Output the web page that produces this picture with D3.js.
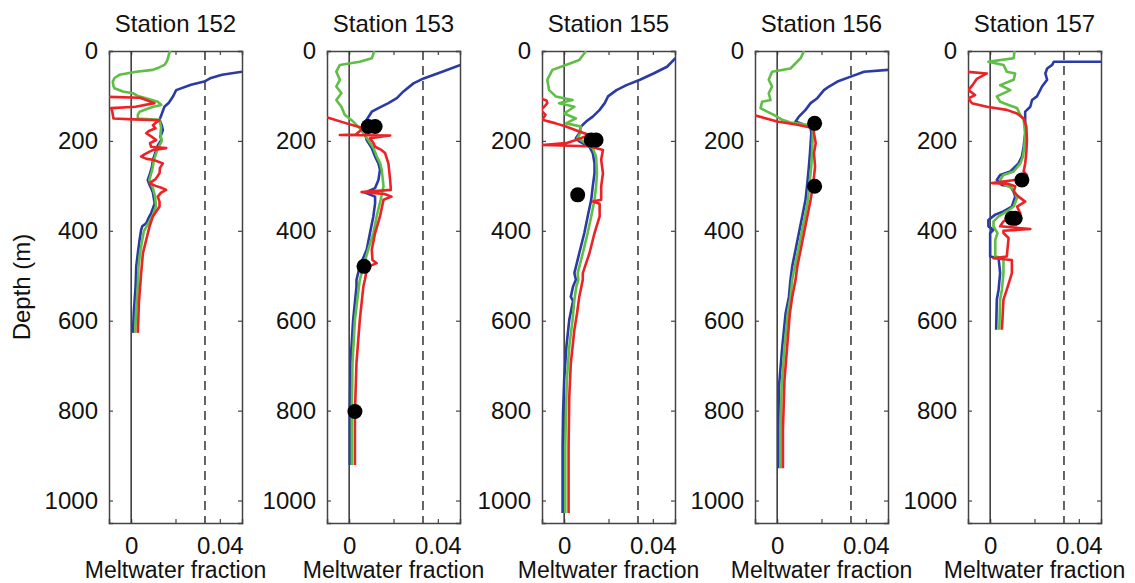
<!DOCTYPE html>
<html>
<head>
<meta charset="utf-8">
<script src="https://cdn.jsdelivr.net/npm/d3@7"></script>
<style>
  body { margin: 0; background: #fff; }
  svg { display: block; font-family: "Liberation Sans", Arial, sans-serif; }
</style>
</head>
<body>
<svg id="chart"></svg>
<script>
// depth (m), meltwater fraction pairs
const stations = ["152", "153", "155", "156", "157"];
const depthTicks = [0, 200, 400, 600, 800, 1000];
const fracTicks = [0, 0.02, 0.04];
const fracLabels = ["0", "", "0.04"];
const dashedFrac = 0.0333;

const s152Blue = [[40,0.056],[46,0.050],[53,0.041],[60,0.036],[68,0.033],[75,0.027],[87,0.0203],[100,0.019],[115,0.017],[124,0.015],[140,0.0138],[153,0.0128],[165,0.0138],[176,0.0143],[190,0.0132],[198,0.0136],[210,0.012],[220,0.0113],[232,0.0105],[242,0.0098],[255,0.0095],[264,0.009],[277,0.0082],[287,0.0075],[297,0.0082],[305,0.009],[315,0.0098],[324,0.0101],[339,0.0106],[350,0.0098],[361,0.009],[372,0.0078],[383,0.0068],[390,0.005],[398,0.0045],[420,0.0038],[450,0.003],[479,0.0023],[524,0.002],[580,0.0012],[627,0.0008]];
const s152Green = [[0,0.0177],[8,0.017],[16,0.0166],[24,0.016],[31,0.015],[38,0.012],[42,0.0098],[46,0.0023],[53,-0.0053],[60,-0.0075],[68,-0.0083],[78,-0.008],[83,-0.0075],[90,-0.0038],[94,0.0008],[100,0.003],[105,0.0068],[113,0.012],[120,0.0136],[124,0.010],[127,0.0083],[135,0.0038],[142,0.003],[150,0.003],[153,0.0128],[170,0.0135],[185,0.0132],[200,0.0138],[220,0.0118],[242,0.0103],[264,0.0095],[287,0.0082],[305,0.0098],[324,0.0108],[345,0.0112],[365,0.0098],[383,0.0078],[400,0.0058],[420,0.005],[450,0.004],[480,0.0033],[524,0.003],[580,0.0022],[627,0.0018]];
const s152Red = [[102,-0.011],[104,0.004],[116,0.0105],[124,0.002],[127,-0.009],[135,-0.0085],[150,-0.008],[152,0.001],[154,0.0128],[160,0.011],[165,0.0098],[172,0.011],[178,0.008],[183,0.0068],[190,0.009],[198,0.0113],[205,0.0085],[213,0.009],[216,0.0158],[220,0.010],[224,0.0083],[230,0.006],[235,0.0045],[240,0.007],[242,0.0098],[250,0.0143],[260,0.013],[272,0.0128],[285,0.011],[294,0.0083],[300,0.011],[305,0.014],[309,0.0158],[315,0.0135],[324,0.012],[335,0.0128],[346,0.0128],[368,0.0098],[390,0.0083],[420,0.0068],[450,0.0053],[494,0.0045],[560,0.0035],[627,0.003]];
const s152Dots = [];

const s153Blue = [[28,0.056],[31,0.0503],[46,0.042],[61,0.0336],[72,0.029],[90,0.0245],[105,0.0215],[116,0.0177],[127,0.0132],[135,0.0102],[153,0.0079],[183,0.0071],[198,0.0079],[216,0.0102],[235,0.0117],[250,0.0132],[264,0.0139],[287,0.0132],[305,0.0117],[315,0.0071],[324,0.0117],[339,0.0117],[368,0.0109],[405,0.0094],[442,0.0079],[479,0.0048],[509,0.0033],[524,0.0033],[598,0.0018],[694,0.0006],[806,0.0003],[921,0.0003]];
const s153Green = [[0,0.0114],[16,0.0102],[24,0.0048],[31,-0.0042],[46,-0.0058],[64,-0.0042],[79,-0.0058],[94,-0.0035],[109,-0.0058],[124,-0.0035],[142,-0.002],[157,0.0018],[172,0.0048],[183,0.0064],[198,0.0086],[216,0.011],[235,0.0125],[250,0.014],[264,0.0147],[301,0.0155],[331,0.0142],[368,0.0124],[405,0.0109],[442,0.0086],[479,0.0064],[509,0.0048],[524,0.0044],[598,0.0026],[694,0.0015],[806,0.0012],[921,0.0012]];
const s153Red = [[146,-0.011],[161,-0.0012],[172,0.0064],[186,0.003],[187,-0.0042],[188,0.0185],[194,0.0094],[205,0.011],[213,0.0117],[220,0.0145],[227,0.0162],[250,0.0177],[287,0.0185],[309,0.0188],[314,0.0056],[318,0.016],[324,0.0191],[331,0.0155],[368,0.0139],[405,0.0117],[442,0.0102],[465,0.0105],[472,0.0124],[478,0.0095],[487,0.0079],[509,0.0071],[524,0.0064],[598,0.0048],[694,0.0033],[806,0.0026],[921,0.0026]];
const s153Dots = [[168,0.0086],[168,0.0117],[479,0.0067],[802,0.0026]];

const s155Blue = [[12,0.055],[16,0.0502],[35,0.0464],[50,0.0403],[64,0.0342],[76,0.0281],[87,0.0236],[101,0.0198],[116,0.0183],[131,0.016],[146,0.0129],[157,0.0099],[168,0.0076],[183,0.0068],[194,0.0053],[201,0.0068],[213,0.0114],[227,0.0129],[250,0.0137],[272,0.0137],[301,0.0129],[331,0.0122],[368,0.0106],[405,0.0091],[450,0.0068],[494,0.0046],[509,0.0053],[524,0.004],[547,0.003],[556,0.004],[598,0.0023],[658,0.001],[732,0],[806,-0.0005],[880,-0.0007],[1028,-0.0007]];
const s155Green = [[0,0.0099],[20,0.0068],[31,0.0008],[42,-0.0053],[64,-0.0076],[87,-0.0068],[101,-0.0038],[109,0.0038],[116,-0.0023],[124,0.0046],[139,0],[150,0.0053],[161,0.0008],[168,0.0076],[183,0.0072],[194,0.006],[201,0.0084],[216,0.0129],[235,0.0144],[272,0.0148],[301,0.0144],[331,0.0137],[368,0.0122],[405,0.0106],[450,0.0084],[494,0.0061],[509,0.0064],[524,0.0055],[554,0.0046],[598,0.0038],[658,0.0023],[732,0.0012],[806,0.0008],[880,0.0005],[1028,0.0005]];
const s155Red = [[105,-0.011],[110,-0.008],[116,-0.0076],[124,-0.009],[131,-0.0106],[142,-0.0084],[153,-0.0099],[161,-0.0038],[168,0.0008],[179,0.0068],[187,0.0114],[198,0.0053],[205,0.0008],[209,-0.0099],[212,0.0114],[220,0.0175],[242,0.0167],[272,0.0175],[301,0.0167],[331,0.0167],[335,0.0129],[340,0.016],[368,0.016],[405,0.0137],[450,0.0114],[494,0.0084],[509,0.0084],[547,0.0068],[584,0.0058],[621,0.0046],[695,0.003],[770,0.0023],[880,0.002],[1028,0.002]];
const s155Dots = [[198,0.0122],[198,0.0144],[320,0.0061]];

const s156Blue = [[40,0.056],[42,0.0501],[46,0.0392],[57,0.0332],[68,0.0272],[79,0.0234],[87,0.0211],[105,0.0181],[116,0.0151],[131,0.0128],[146,0.0098],[157,0.0083],[164,0.0121],[168,0.0151],[183,0.0154],[205,0.0151],[227,0.0148],[257,0.0143],[294,0.0136],[331,0.0128],[368,0.0113],[405,0.0098],[442,0.0083],[479,0.0068],[509,0.006],[547,0.0053],[584,0.0038],[658,0.0023],[747,0.0008],[843,0.0005],[928,0.0005]];
const s156Green = [[0,0.0121],[16,0.0106],[39,0.006],[46,-0.0023],[64,-0.0038],[79,-0.0023],[94,-0.0038],[109,-0.003],[113,-0.0068],[127,-0.0075],[135,-0.0045],[142,-0.0015],[153,0.0023],[159,0.006],[163,0.0121],[168,0.0158],[183,0.0161],[220,0.0158],[257,0.0154],[294,0.0146],[331,0.0139],[368,0.0125],[405,0.011],[442,0.0095],[479,0.008],[509,0.0068],[547,0.006],[584,0.0048],[658,0.0033],[747,0.002],[843,0.0015],[928,0.0015]];
const s156Red = [[142,-0.011],[157,0],[164,0.0091],[172,0.0166],[183,0.0166],[205,0.0174],[227,0.0166],[257,0.0171],[294,0.0163],[331,0.0151],[368,0.0136],[405,0.0121],[442,0.0106],[479,0.0091],[509,0.0083],[547,0.0068],[584,0.0057],[658,0.0045],[732,0.0033],[843,0.0026],[928,0.0026]];
const s156Dots = [[161,0.0169],[301,0.0169]];

const s157Blue = [[24,0.056],[24,0.0287],[31,0.028],[39,0.0257],[50,0.0249],[64,0.0257],[79,0.0234],[101,0.0211],[109,0.0189],[124,0.0181],[135,0.0158],[153,0.0158],[183,0.0158],[213,0.0151],[235,0.0143],[250,0.0128],[268,0.0091],[276,0.0045],[287,0.003],[298,0.0053],[301,0.0091],[313,0.0106],[324,0.0113],[346,0.0098],[357,0.006],[364,0.0023],[376,-0.0008],[390,-0.0008],[398,0.0015],[405,0],[457,0],[461,0.0038],[494,0.0045],[531,0.0038],[553,0.003],[620,0.0027]];
const s157Green = [[0,0.011],[16,0.0106],[22,0.002],[24,-0.0008],[31,0.006],[46,0.0075],[50,0.0113],[64,0.0106],[76,0.0045],[87,0.0091],[101,0.003],[113,0.0045],[120,0.0083],[127,0.0121],[142,0.0136],[153,0.0151],[183,0.0158],[213,0.0154],[235,0.0148],[250,0.0136],[268,0.0106],[276,0.006],[287,0.0045],[298,0.0068],[305,0.0098],[316,0.0113],[327,0.0121],[346,0.0106],[357,0.0075],[368,0.0038],[379,0.0015],[390,0.0015],[405,0.0033],[420,0.0023],[457,0.0023],[461,0.006],[494,0.006],[531,0.0053],[553,0.0045],[620,0.0041]];
const s157Red = [[46,-0.011],[50,-0.0015],[62,-0.006],[76,-0.008],[87,-0.0098],[98,-0.0068],[105,-0.0098],[116,-0.0083],[124,-0.0015],[131,0.0075],[139,0.0121],[150,0.0151],[168,0.0163],[198,0.0166],[227,0.0163],[250,0.0158],[268,0.0151],[276,0.0166],[285,0.014],[294,0.0008],[295,0.0075],[301,0.0113],[313,0.0106],[324,0.0128],[335,0.0158],[346,0.0121],[361,0.0136],[368,0.0106],[379,0.006],[390,0.0045],[396,0.0181],[400,0.006],[405,0.006],[416,0.0083],[457,0.0075],[461,0.0015],[465,0.0098],[494,0.0098],[531,0.0075],[553,0.006],[620,0.0053]];
const s157Dots = [[287,0.0143],[372,0.0098],[372,0.0113]];

const blueSeries = [s152Blue, s153Blue, s155Blue, s156Blue, s157Blue];
const greenSeries = [s152Green, s153Green, s155Green, s156Green, s157Green];
const redSeries = [s152Red, s153Red, s155Red, s156Red, s157Red];
const dotSeries = [s152Dots, s153Dots, s155Dots, s156Dots, s157Dots];

// layout
const svgWidth = 1135, svgHeight = 583;
const panelX = [109, 327, 542, 755, 968];
const panelW = 133;
const plotTop = 51, plotBottom = 523;

const svg = d3.select("#chart")
    .attr("width", svgWidth)
    .attr("height", svgHeight);

const y = d3.scaleLinear().domain([0, 1050]).range([plotTop, plotBottom]);

svg.append("text")
    .attr("transform", "translate(30," + ((plotTop + plotBottom) / 2) + ") rotate(-90)")
    .attr("text-anchor", "middle")
    .attr("font-size", 24)
    .attr("fill", "#111")
    .text("Depth (m)");

stations.forEach(function(name, i) {
    const left = panelX[i];
    const x = d3.scaleLinear().domain([-0.01, 0.05]).range([left, left + panelW]);
    const g = svg.append("g");

    g.append("clipPath").attr("id", "clip" + i)
        .append("rect")
        .attr("x", left).attr("y", plotTop)
        .attr("width", panelW).attr("height", plotBottom - plotTop);

    // title
    g.append("text")
        .attr("x", left + panelW / 2)
        .attr("y", 32)
        .attr("text-anchor", "middle")
        .attr("font-size", 24)
        .attr("fill", "#111")
        .text("Station " + name);

    // axes, ticks pointing inward
    const yl = g.append("g").attr("transform", "translate(" + left + ",0)")
        .call(d3.axisLeft(y).tickValues(depthTicks).tickSize(-4).tickPadding(11)
            .tickFormat(d3.format("d")));
    const yr = g.append("g").attr("transform", "translate(" + (left + panelW) + ",0)")
        .call(d3.axisRight(y).tickValues(depthTicks).tickSize(-4).tickFormat(""));
    const xb = g.append("g").attr("transform", "translate(0," + plotBottom + ")")
        .call(d3.axisBottom(x).tickValues(fracTicks).tickSize(-4).tickPadding(14)
            .tickFormat(function(d, k) { return fracLabels[k]; }));
    const xt = g.append("g").attr("transform", "translate(0," + plotTop + ")")
        .call(d3.axisTop(x).tickValues(fracTicks).tickSize(-4).tickFormat(""));

    [yl, yr, xb, xt].forEach(function(a) {
        a.selectAll("path").attr("stroke", "#444").attr("stroke-width", 1.5);
        a.selectAll("line").attr("stroke", "#444").attr("stroke-width", 1.2);
        a.selectAll("text").attr("font-size", 24).attr("fill", "#111")
            .attr("font-family", "Liberation Sans, Arial, sans-serif");
    });

    g.append("text")
        .attr("x", left + panelW / 2)
        .attr("y", 578)
        .attr("text-anchor", "middle")
        .attr("font-size", 23)
        .attr("fill", "#111")
        .text("Meltwater fraction");

    // zero line and dashed reference line
    g.append("line")
        .attr("x1", x(0)).attr("x2", x(0))
        .attr("y1", plotTop).attr("y2", plotBottom)
        .attr("stroke", "#333").attr("stroke-width", 1.5);
    g.append("line")
        .attr("x1", x(dashedFrac)).attr("x2", x(dashedFrac))
        .attr("y1", plotTop).attr("y2", plotBottom)
        .attr("stroke", "#333").attr("stroke-width", 1.5)
        .attr("stroke-dasharray", "9,6");

    const line = d3.line()
        .x(function(d) { return x(d[1]); })
        .y(function(d) { return y(d[0]); });

    const plot = g.append("g").attr("clip-path", "url(#clip" + i + ")");
    [[blueSeries[i], "#2a3ba5"], [greenSeries[i], "#5fbe45"], [redSeries[i], "#ec2226"]]
        .forEach(function(s) {
            plot.append("path")
                .datum(s[0])
                .attr("fill", "none")
                .attr("stroke", s[1])
                .attr("stroke-width", 2.6)
                .attr("stroke-linejoin", "round")
                .attr("d", line);
        });

    plot.selectAll("circle")
        .data(dotSeries[i])
        .enter().append("circle")
        .attr("cx", function(d) { return x(d[1]); })
        .attr("cy", function(d) { return y(d[0]); })
        .attr("r", 7.5)
        .attr("fill", "#000");
});
</script>
</body>
</html>
